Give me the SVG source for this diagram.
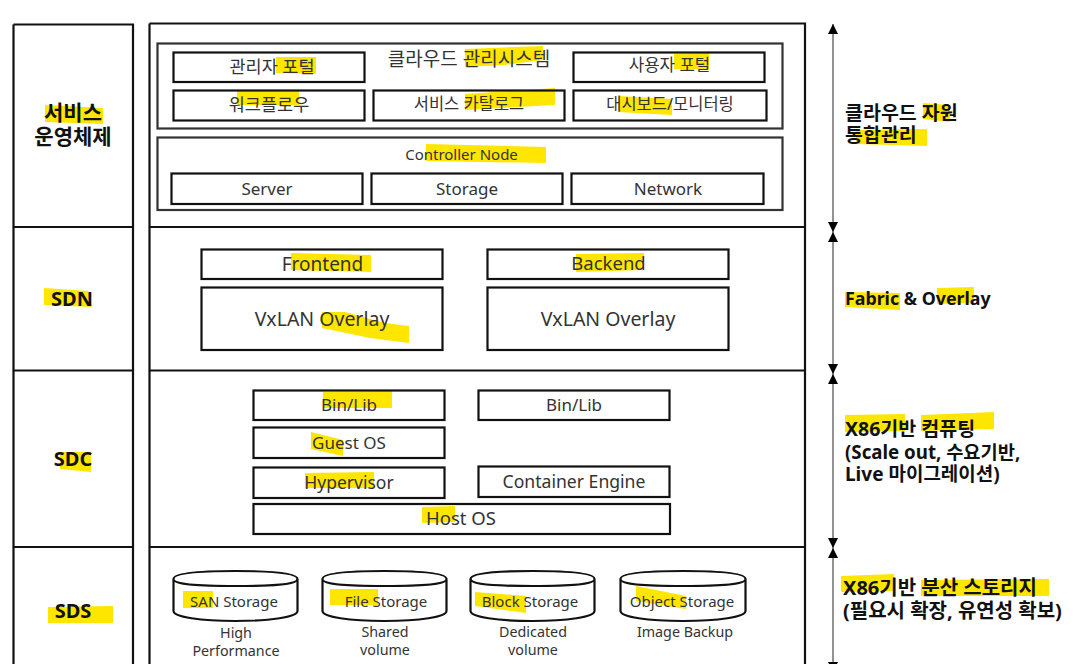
<svg xmlns="http://www.w3.org/2000/svg" width="1075" height="664" viewBox="0 0 1075 664">
<style>
.bg{fill:#fff}
.f{fill:none;stroke:#111;stroke-width:2.2}
.g{fill:none;stroke:#333;stroke-width:2.2}
.hl{fill:#ffe600}
text{font-family:"Noto Sans","Noto Sans CJK KR",sans-serif;fill:#333;text-anchor:middle}
.s{font-size:15px}
.cap{font-size:14.300px}
.m{font-size:17px}
.m2{font-size:18.500px}
.l{font-size:19.500px}
.n{font-size:17.500px}
.n2{font-size:16.500px}
.t{font-weight:700;font-size:21px;fill:#111}
.t2{font-weight:700;font-size:20px;fill:#111}
.r{font-weight:700;font-size:19.500px;fill:#111;text-anchor:start}
.c{stroke:#777;stroke-width:1.6;fill:none;marker-start:url(#up);marker-end:url(#dn)}
</style>
<defs>
<marker id="dn" viewBox="0 0 10 10" refX="5" refY="10" markerWidth="10" markerHeight="10" markerUnits="userSpaceOnUse" orient="0"><path d="M0 0H10L5 10Z" fill="#000"/></marker>
<marker id="up" viewBox="0 0 10 10" refX="5" refY="0" markerWidth="10" markerHeight="10" markerUnits="userSpaceOnUse" orient="0"><path d="M5 0L10 10H0Z" fill="#000"/></marker>
</defs>
<rect class="bg" width="1075" height="664"/>
<g id="frames">
<path class="f" d="M13.500 24.500H133V668M13.500 24.500V668M13 227H133M13 370.500H133M13 547H133"/>
<path class="f" d="M149.500 23.500H805V668M149.500 23.500V668M149 227H805M149 370.500H805M149 547H805"/>
</g>
<g id="highlights">
<polygon class="hl" points="45,105 103,108 103,124 45,122"/>
<polygon class="hl" points="276,57 316,57 316,74 276,73"/>
<polygon class="hl" points="465,49 543,46 543,60 505,65 465,67"/>
<polygon class="hl" points="237,91 299,91 299,105 237,105"/>
<polygon class="hl" points="465,94 555,88 555,105 465,110"/>
<polygon class="hl" points="426,144 546,147 546,163 426,161"/>
<polygon class="hl" points="674,54 709,53 709,69 674,69"/>
<polygon class="hl" points="618,96 672,99 672,115 618,112"/>
<polygon class="hl" points="923,103 950,105 950,122 923,119"/>
<polygon class="hl" points="856,130 927,129 927,146 856,144"/>
<polygon class="hl" points="44,288 88,291 92,307 44,305"/>
<polygon class="hl" points="291,253 371,255 371,272 291,270"/>
<polygon class="hl" points="322,312 345,312 385,323 409,326 409,343 370,338 322,328"/>
<polygon class="hl" points="576,254 644,253 644,270 576,272"/>
<polygon class="hl" points="323,392 392,391 392,408 323,408"/>
<polygon class="hl" points="311,432 343,440 343,456 311,449"/>
<polygon class="hl" points="305,473 374,472 374,488 305,488"/>
<polygon class="hl" points="422,507 455,506 455,522 422,523"/>
<polygon class="hl" points="60,452 91,452 91,472 60,469"/>
<polygon class="hl" points="48,607 113,606 113,623 48,623"/>
<polygon class="hl" points="183,591 213,591 213,608 183,608"/>
<polygon class="hl" points="330,589 378,589 378,605 330,605"/>
<polygon class="hl" points="475,592 526,596 526,613 475,606"/>
<polygon class="hl" points="636,586 686,596 686,609 636,601"/>
<polygon class="hl" points="845,292 900,293 900,310 845,307"/>
<polygon class="hl" points="937,288 974,287 974,303 937,304"/>
<polygon class="hl" points="845,415 905,414 905,431 845,432"/>
<polygon class="hl" points="921,415 994,412 994,429 921,431"/>
<polygon class="hl" points="841,576 894,574 894,591 841,592"/>
<polygon class="hl" points="921,580 1049,579 1049,596 921,596"/>
</g>
<g id="layer-labels">
<text class="t" x="73" y="120">서비스</text>
<text class="t" x="73" y="144">운영체제</text>
<text class="t2" x="72" y="306">SDN</text>
<text class="t2" x="73" y="466">SDC</text>
<text class="t2" x="73" y="618">SDS</text>
</g>
<g id="cloud-mgmt">
<rect class="g" x="157.500" y="43.500" width="625" height="85"/>
<text class="m" style="font-size:19px" x="469" y="66">클라우드 관리시스템</text>
</g>
<g id="admin-portal"><rect class="f" x="173.500" y="52.500" width="191" height="29.500"/><text class="n" x="272" y="73">관리자 포털</text></g>
<g id="user-portal"><rect class="f" x="573.500" y="52.500" width="191" height="29.500"/><text class="n" style="font-size:16.800px" x="669.500" y="71">사용자 포털</text></g>
<g id="workflow"><rect class="f" x="173.500" y="90.500" width="191" height="30"/><text class="n" x="269" y="111">워크플로우</text></g>
<g id="catalog"><rect class="f" x="373.500" y="90.500" width="191" height="30"/><text class="n2" x="469" y="110">서비스 카탈로그</text></g>
<g id="dashboard"><rect class="f" x="573.500" y="90.500" width="193" height="30"/><text class="n2" x="670" y="110">대시보드/모니터링</text></g>
<g id="controller">
<rect class="g" x="157.500" y="137.500" width="625" height="72.500"/>
<text class="s" x="461.500" y="160">Controller Node</text>
</g>
<g id="server"><rect class="f" x="171.500" y="173.500" width="191" height="30.500"/><text class="m" x="267" y="195">Server</text></g>
<g id="storage"><rect class="f" x="371.500" y="173.500" width="191" height="30.500"/><text class="m" x="467" y="195">Storage</text></g>
<g id="network"><rect class="f" x="571.500" y="173.500" width="192" height="30.500"/><text class="m" x="668" y="195">Network</text></g>
<g id="frontend"><rect class="f" x="201.500" y="249.500" width="241" height="29.500"/><text class="m2" style="font-size:19px" x="322.500" y="271">Frontend</text></g>
<g id="backend"><rect class="f" x="487.500" y="249.500" width="241" height="29.500"/><text class="m2" x="608.500" y="270">Backend</text></g>
<g id="vxlan-1"><rect class="f" x="201.500" y="287.500" width="241" height="62.500"/><text class="l" x="322" y="326">VxLAN Overlay</text></g>
<g id="vxlan-2"><rect class="f" x="487.500" y="287.500" width="241" height="62.500"/><text class="l" x="608" y="326">VxLAN Overlay</text></g>
<g id="binlib-1"><rect class="f" x="253.500" y="390.500" width="191" height="29.500"/><text class="m" x="349" y="411">Bin/Lib</text></g>
<g id="binlib-2"><rect class="f" x="478.500" y="390.500" width="191" height="29.500"/><text class="m" x="574" y="411">Bin/Lib</text></g>
<g id="guest-os"><rect class="f" x="253.500" y="427.500" width="191" height="30.500"/><text class="m" x="349" y="449">Guest OS</text></g>
<g id="hypervisor"><rect class="f" x="253.500" y="467.500" width="191" height="30.500"/><text class="m" style="font-size:17.500px" x="349" y="489">Hypervisor</text></g>
<g id="container"><rect class="f" x="478.500" y="466.500" width="191" height="30.500"/><text class="m" style="font-size:17.600px" x="574" y="488">Container Engine</text></g>
<g id="host-os"><rect class="f" x="253.500" y="504" width="416.500" height="30"/><text class="m2" x="461" y="525">Host OS</text></g>
<g id="san">
<path class="f" d="M173.500 579V611C173.500 617 201 621 235.500 621S297.500 617 297.500 611V579M173.500 579C173.500 573 201 571 235.500 571S297.500 573 297.500 579S270 586 235.500 586S173.500 585 173.500 579Z"/>
<text class="s" x="234" y="607">SAN Storage</text>
<text class="cap" x="236" y="638">High</text><text class="cap" x="236" y="656">Performance</text>
</g>
<g id="file">
<path class="f" d="M322.500 579V611C322.500 617 350 621 384.500 621S446.500 617 446.500 611V579M322.500 579C322.500 573 350 571 384.500 571S446.500 573 446.500 579S419 586 384.500 586S322.500 585 322.500 579Z"/>
<text class="s" x="386" y="607">File Storage</text>
<text class="cap" x="385" y="637">Shared</text><text class="cap" x="385" y="655">volume</text>
</g>
<g id="block">
<path class="f" d="M470.500 579V611C470.500 617 498 621 532.500 621S594.500 617 594.500 611V579M470.500 579C470.500 573 498 571 532.500 571S594.500 573 594.500 579S567 586 532.500 586S470.500 585 470.500 579Z"/>
<text class="s" x="530" y="607">Block Storage</text>
<text class="cap" x="533" y="637">Dedicated</text><text class="cap" x="533" y="655">volume</text>
</g>
<g id="object">
<path class="f" d="M620.500 579V611C620.500 617 648 621 683 621S745.500 617 745.500 611V579M620.500 579C620.500 573 648 571 683 571S745.500 573 745.500 579S718 586 683 586S620.500 585 620.500 579Z"/>
<text class="s" x="682" y="607">Object Storage</text>
<text class="cap" x="685" y="637">Image Backup</text>
</g>
<g id="connectors">
<line class="c" x1="833" y1="24" x2="833" y2="232"/>
<line class="c" x1="833" y1="232" x2="833" y2="374"/>
<line class="c" x1="833" y1="374" x2="833" y2="548"/>
<line class="c" x1="833" y1="548" x2="833" y2="672"/>
</g>
<g id="side-labels">
<text class="r" x="845" y="120">클라우드 자원</text>
<text class="r" x="845" y="142">통합관리</text>
<text class="r" style="font-size:17.800px" x="845" y="305">Fabric &amp; Overlay</text>
<text class="r" x="845" y="436">X86기반 컴퓨팅</text>
<text class="r" style="font-size:18.700px" x="845" y="459">(Scale out, 수요기반,</text>
<text class="r" style="font-size:19px" x="845" y="481">Live 마이그레이션)</text>
<text class="r" style="font-size:20px" x="843" y="595">X86기반 분산 스토리지</text>
<text class="r" style="font-size:20px" x="843" y="618">(필요시 확장, 유연성 확보)</text>
</g>
</svg>
